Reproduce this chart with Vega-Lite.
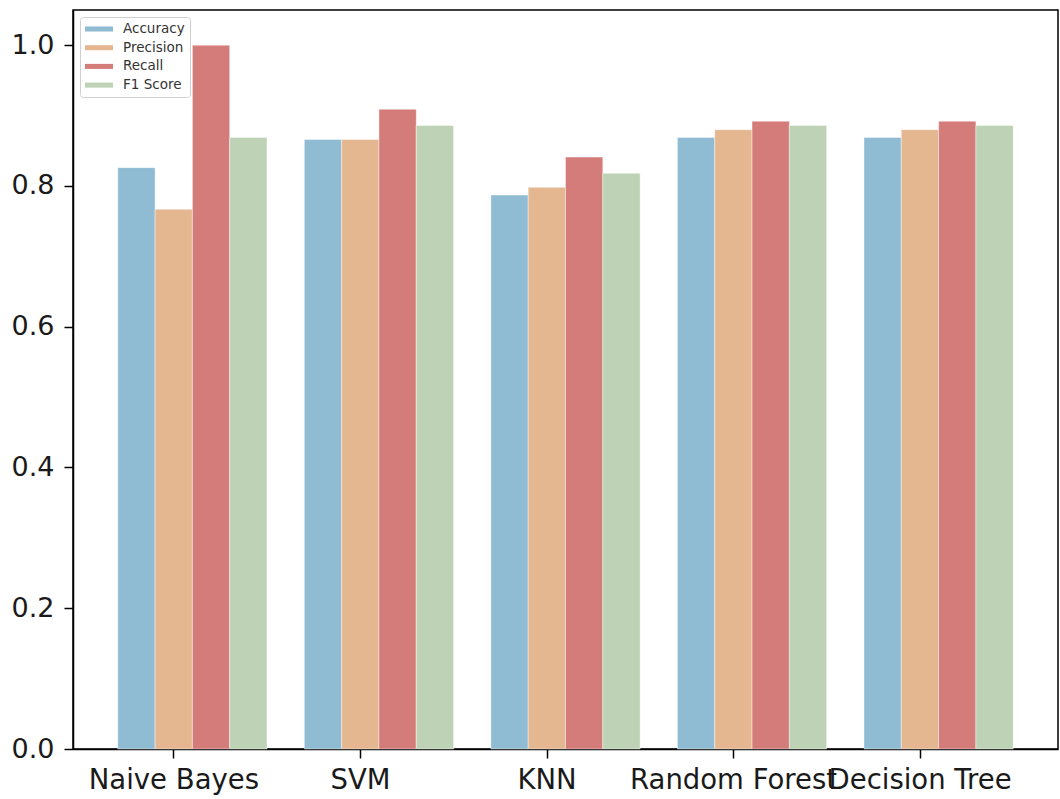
{
  "$schema": "https://vega.github.io/schema/vega-lite/v6.json",
  "width": 985,
  "height": 739,
  "autosize": {"type": "none"},
  "padding": {"left": 73, "top": 10, "right": 2, "bottom": 50},
  "background": "white",
  "config": {
    "font": "DejaVu Sans",
    "view": {"stroke": "#000000", "strokeWidth": 1.5},
    "axis": {"grid": false, "domainColor": "#000000", "domainWidth": 1.5, "tickColor": "#000000", "tickWidth": 1.5, "tickSize": 9, "labelColor": "#1a1a1a", "labelFont": "DejaVu Sans", "labelFontSize": 27, "labelPadding": 6, "title": null}
  },
  "data": {
    "values": [
      {"model": "Naive Bayes", "metric": "Accuracy", "value": 0.826},
      {"model": "Naive Bayes", "metric": "Precision", "value": 0.767},
      {"model": "Naive Bayes", "metric": "Recall", "value": 1.0},
      {"model": "Naive Bayes", "metric": "F1 Score", "value": 0.869},
      {"model": "SVM", "metric": "Accuracy", "value": 0.866},
      {"model": "SVM", "metric": "Precision", "value": 0.866},
      {"model": "SVM", "metric": "Recall", "value": 0.909},
      {"model": "SVM", "metric": "F1 Score", "value": 0.886},
      {"model": "KNN", "metric": "Accuracy", "value": 0.787},
      {"model": "KNN", "metric": "Precision", "value": 0.798},
      {"model": "KNN", "metric": "Recall", "value": 0.841},
      {"model": "KNN", "metric": "F1 Score", "value": 0.818},
      {"model": "Random Forest", "metric": "Accuracy", "value": 0.869},
      {"model": "Random Forest", "metric": "Precision", "value": 0.880},
      {"model": "Random Forest", "metric": "Recall", "value": 0.892},
      {"model": "Random Forest", "metric": "F1 Score", "value": 0.886},
      {"model": "Decision Tree", "metric": "Accuracy", "value": 0.869},
      {"model": "Decision Tree", "metric": "Precision", "value": 0.880},
      {"model": "Decision Tree", "metric": "Recall", "value": 0.892},
      {"model": "Decision Tree", "metric": "F1 Score", "value": 0.886}
    ]
  },
  "mark": {"type": "bar", "stroke": "white", "strokeWidth": 0.6, "strokeOpacity": 0.7},
  "encoding": {
    "x": {
      "field": "model", "type": "nominal",
      "sort": ["Naive Bayes", "SVM", "KNN", "Random Forest", "Decision Tree"],
      "scale": {"paddingInner": 0.2, "paddingOuter": 0.24},
      "axis": {"labelAngle": 0, "labelOverlap": false, "labelLimit": 0, "labelPadding": 8, "labelFontSize": 27.5, "tickOffset": -19}
    },
    "xOffset": {
      "field": "metric", "type": "nominal",
      "sort": ["Accuracy", "Precision", "Recall", "F1 Score"],
      "scale": {"paddingInner": 0, "paddingOuter": 0}
    },
    "y": {
      "field": "value", "type": "quantitative",
      "scale": {"domain": [0, 1.05], "nice": false},
      "axis": {"values": [0, 0.2, 0.4, 0.6, 0.8, 1.0], "format": ".1f", "labelPadding": 10}
    },
    "color": {
      "field": "metric", "type": "nominal",
      "sort": ["Accuracy", "Precision", "Recall", "F1 Score"],
      "scale": {"domain": ["Accuracy", "Precision", "Recall", "F1 Score"], "range": ["#8fbbd3", "#e4b791", "#d47c7a", "#bed2b5"]},
      "legend": {
        "title": null,
        "orient": "none",
        "legendX": 7,
        "legendY": 7,
        "symbolType": "M-2,-0.36H2V0.36H-2Z",
        "symbolSize": 196,
        "symbolOffset": 7,
        "symbolStrokeWidth": 0,
        "labelFontSize": 13.5,
        "labelColor": "#333333",
        "labelOffset": 17,
        "rowPadding": 4.7,
        "padding": 5,
        "strokeColor": "#d0d0d0",
        "fillColor": "white",
        "cornerRadius": 3
      }
    }
  }
}
